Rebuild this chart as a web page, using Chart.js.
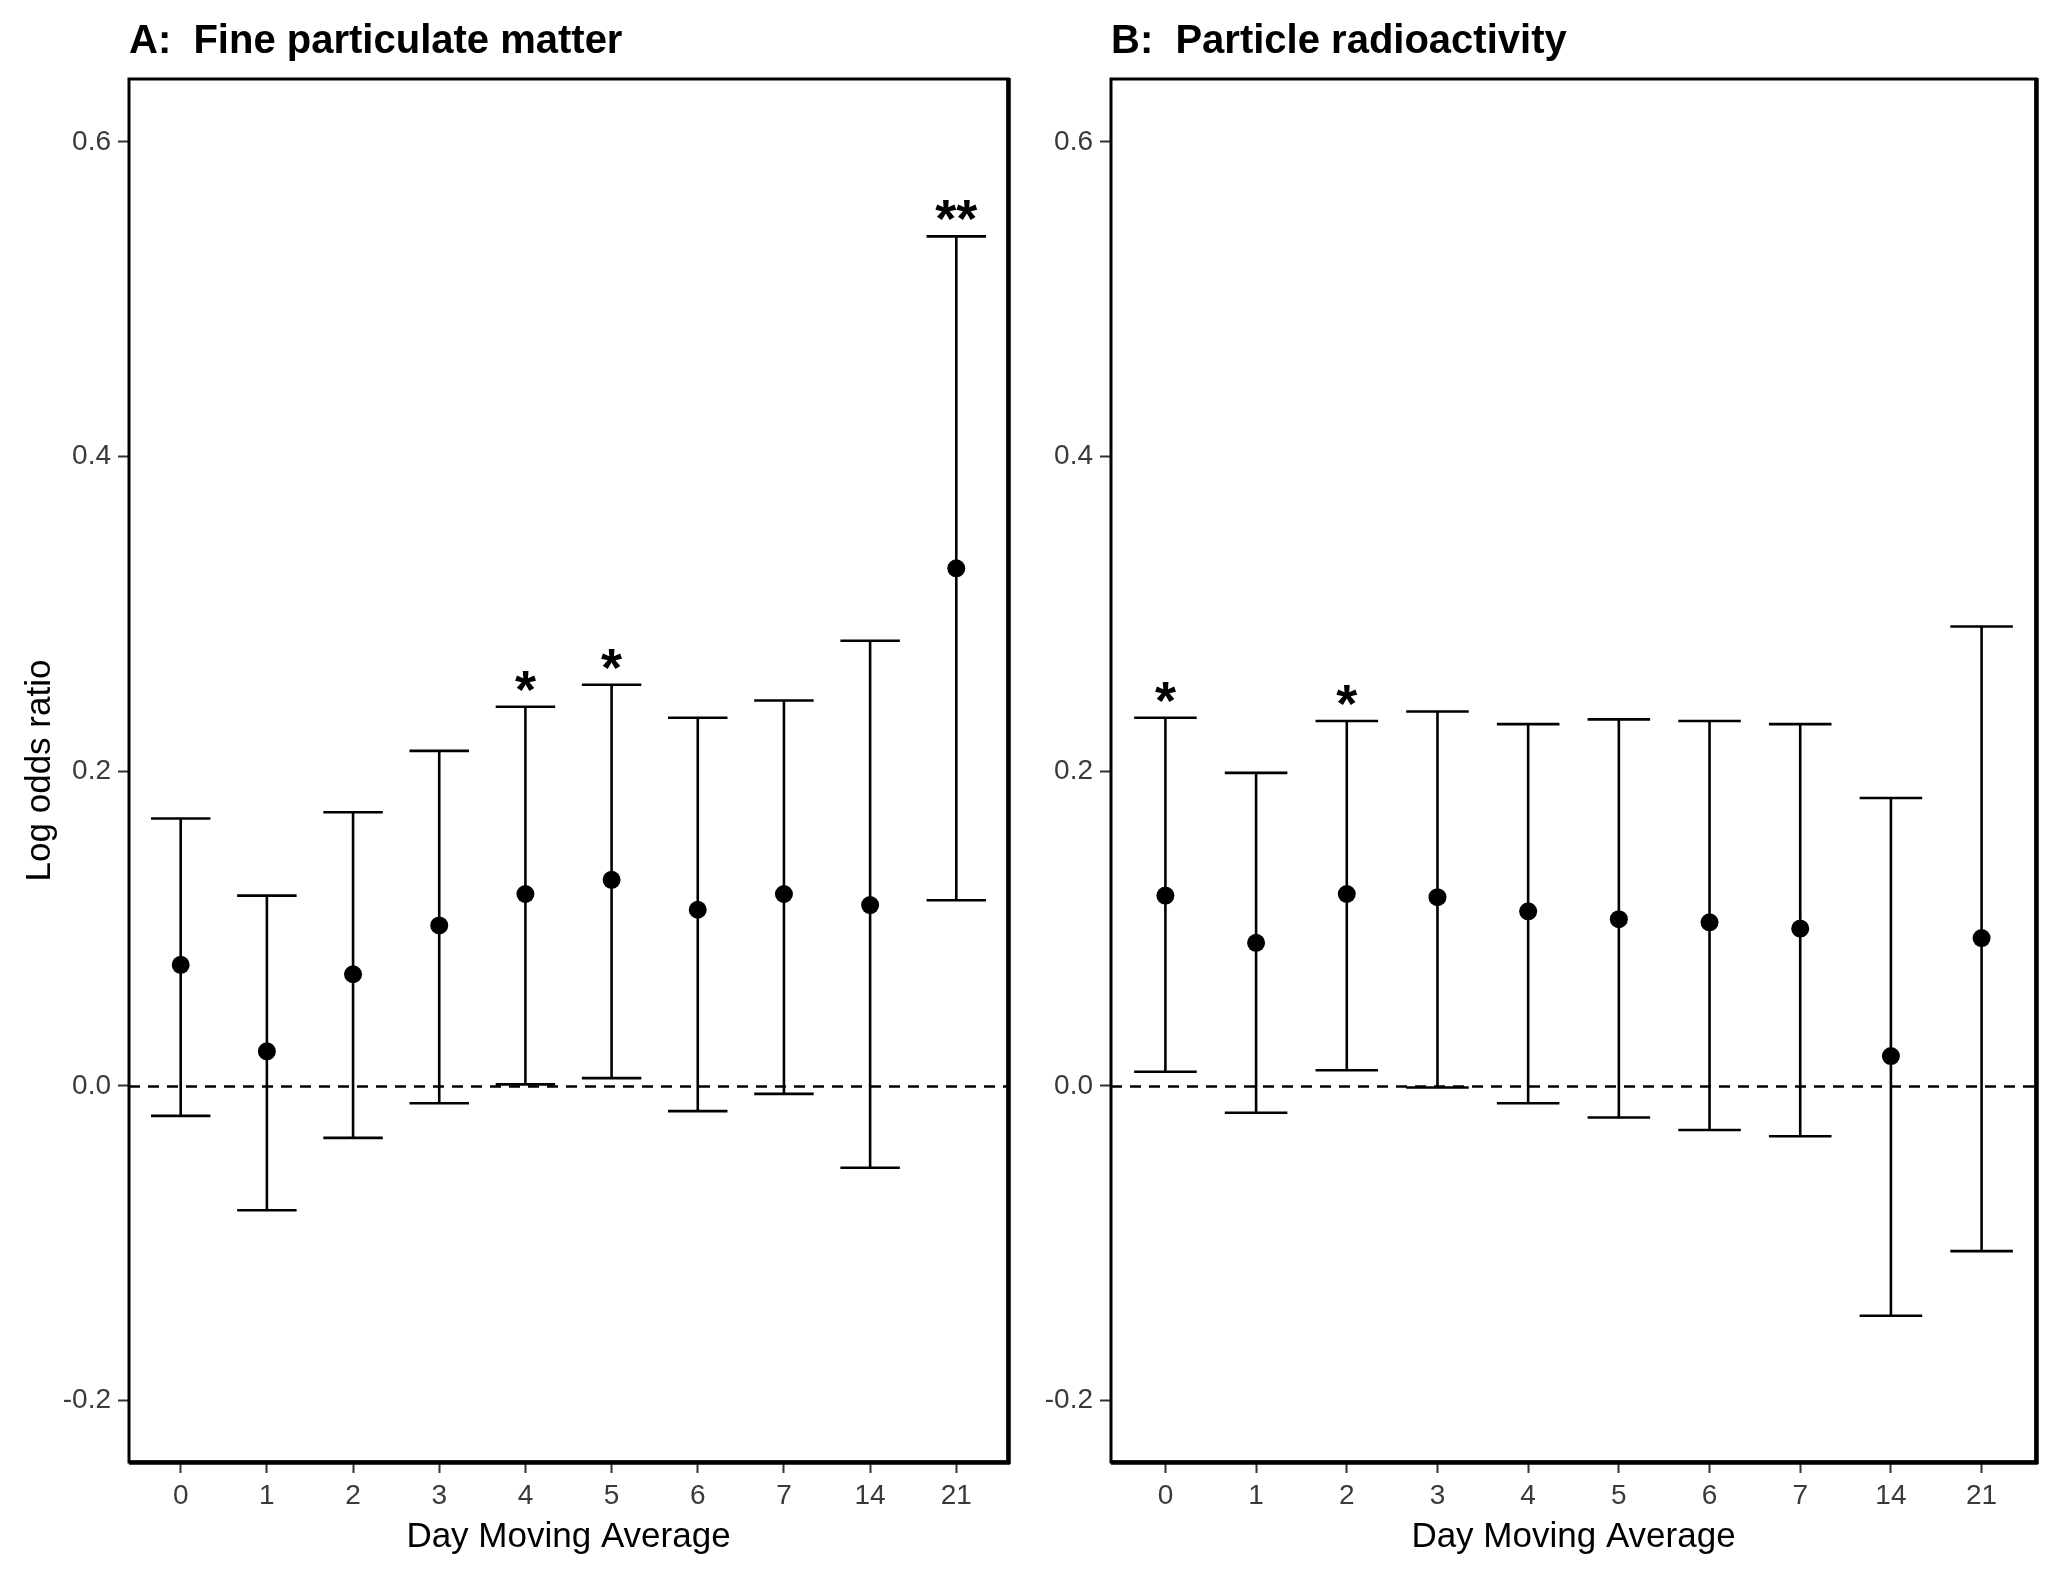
<!DOCTYPE html>
<html lang="en">
  <head>
    <meta charset="UTF-8" />
    <title>Log odds ratio by day moving average</title>
    <script src="https://cdn.jsdelivr.net/npm/chart.js"></script>
    <style>
      html, body { margin: 0; padding: 0; background: #fff; }
      #wrap { position: relative; width: 2056px; height: 1572px; }
      .panel { position: absolute; top: 0; width: 1028px; height: 1572px; }
    </style>
  </head>
  <body>
    <div id="wrap">
      <div class="panel" style="left: 0"><canvas id="chartA" width="1028" height="1572"></canvas></div>
      <div class="panel" style="left: 1028px"><canvas id="chartB" width="1028" height="1572"></canvas></div>
    </div>

    <script>
      // x categories (day moving average) and y ticks
      const dayLabels = ["0", "1", "2", "3", "4", "5", "6", "7", "14", "21"];
      const yTicks = [-0.2, 0.0, 0.2, 0.4, 0.6];

      // A: fine particulate matter
      const pmEstimate = [0.077, 0.022, 0.071, 0.102, 0.122, 0.131, 0.112, 0.122, 0.115, 0.329];
      const pmLower = [-0.019, -0.079, -0.033, -0.011, 0.001, 0.005, -0.016, -0.005, -0.052, 0.118];
      const pmUpper = [0.170, 0.121, 0.174, 0.213, 0.241, 0.255, 0.234, 0.245, 0.283, 0.540];
      const pmStars = ["", "", "", "", "*", "*", "", "", "", "**"];

      // B: particle radioactivity
      const prEstimate = [0.121, 0.091, 0.122, 0.120, 0.111, 0.106, 0.104, 0.100, 0.019, 0.094];
      const prLower = [0.009, -0.017, 0.010, -0.001, -0.011, -0.020, -0.028, -0.032, -0.146, -0.105];
      const prUpper = [0.234, 0.199, 0.232, 0.238, 0.230, 0.233, 0.232, 0.230, 0.183, 0.292];
      const prStars = ["*", "", "*", "", "", "", "", "", "", ""];

      const FONT = "'Liberation Sans', Arial, sans-serif";

      // zero line, error bars, stars, frame and panel title
      const panelDecor = {
        id: "panelDecor",
        beforeDatasetsDraw(chart, args, opts) {
          const { ctx, chartArea: a, scales: { x, y } } = chart;
          ctx.save();
          ctx.strokeStyle = "#000";
          ctx.lineWidth = 2.4;
          ctx.setLineDash([11, 8]);
          const y0 = Math.round(y.getPixelForValue(0)) + 0.5;
          ctx.beginPath();
          ctx.moveTo(a.left, y0);
          ctx.lineTo(a.right, y0);
          ctx.stroke();
          ctx.setLineDash([]);

          const half = 0.345;
          ctx.lineWidth = 2.6;
          opts.lower.forEach((lo, i) => {
            const hi = opts.upper[i];
            const px = x.getPixelForValue(i);
            const l = x.getPixelForValue(i - half);
            const r = x.getPixelForValue(i + half);
            const yl = y.getPixelForValue(lo);
            const yh = y.getPixelForValue(hi);
            ctx.beginPath();
            ctx.moveTo(px, yl); ctx.lineTo(px, yh);
            ctx.moveTo(l, yl); ctx.lineTo(r, yl);
            ctx.moveTo(l, yh); ctx.lineTo(r, yh);
            ctx.stroke();
          });
          ctx.restore();
        },
        afterDraw(chart, args, opts) {
          const { ctx, chartArea: a, scales: { x, y } } = chart;
          ctx.save();
          // significance stars
          ctx.fillStyle = "#000";
          ctx.font = "bold 54px " + FONT;
          ctx.textAlign = "center";
          ctx.textBaseline = "alphabetic";
          opts.stars.forEach((s, i) => {
            if (!s) return;
            ctx.fillText(s, x.getPixelForValue(i), y.getPixelForValue(opts.upper[i]) + 1);
          });
          // panel frame
          ctx.strokeStyle = "#000";
          ctx.lineWidth = 3;
          ctx.strokeRect(a.left, a.top, a.right - a.left, a.bottom - a.top);
          ctx.lineWidth = 4.5;
          ctx.beginPath();
          ctx.moveTo(a.left, a.bottom + 0.5); ctx.lineTo(a.right + 2, a.bottom + 0.5);
          ctx.moveTo(a.right + 0.5, a.top - 1); ctx.lineTo(a.right + 0.5, a.bottom + 2);
          ctx.stroke();
          // title
          ctx.font = "bold 40px " + FONT;
          ctx.textAlign = "left";
          ctx.fillText(opts.title, a.left, 53);
          ctx.restore();
        }
      };

      function makePanel(id, title, est, lower, upper, stars, yWidth, showYTitle) {
        const ctx = document.getElementById(id).getContext("2d");
        return new Chart(ctx, {
          type: "scatter",
          data: {
            datasets: [
              {
                data: est.map((v, i) => ({ x: i, y: v })),
                backgroundColor: "#000",
                borderWidth: 0,
                pointRadius: 9,
                pointHoverRadius: 9,
              },
            ],
          },
          options: {
            responsive: false,
            animation: false,
            layout: { padding: { top: 79, right: 20, bottom: 0, left: 0 } },
            plugins: {
              legend: { display: false },
              tooltip: { enabled: false },
              panelDecor: { title: title, lower: lower, upper: upper, stars: stars },
            },
            scales: {
              x: {
                type: "linear",
                min: -0.6,
                max: 9.6,
                afterBuildTicks: (s) => { s.ticks = dayLabels.map((_, i) => ({ value: i })); },
                afterFit: (s) => { s.height = 110; },
                ticks: {
                  callback: (v) => dayLabels[v],
                  color: "#3a3a3a",
                  font: { size: 28, family: FONT },
                  padding: 6,
                  maxRotation: 0,
                },
                grid: { drawOnChartArea: false, drawTicks: true, tickLength: 11, tickWidth: 2, tickColor: "#333" },
                border: { display: false },
                title: {
                  display: true,
                  text: "Day Moving Average",
                  color: "#000",
                  font: { size: 35, family: FONT },
                  padding: { top: 0, bottom: 14 },
                },
              },
              y: {
                min: -0.239,
                max: 0.640,
                afterBuildTicks: (s) => { s.ticks = yTicks.map((v) => ({ value: v })); },
                afterFit: (s) => { s.width = yWidth; },
                ticks: {
                  callback: (v) => v.toFixed(1),
                  color: "#3a3a3a",
                  font: { size: 28, family: FONT },
                  padding: 7,
                },
                grid: { drawOnChartArea: false, drawTicks: true, tickLength: 11, tickWidth: 2, tickColor: "#333" },
                border: { display: false },
                title: {
                  display: showYTitle,
                  text: "Log odds ratio",
                  color: "#000",
                  font: { size: 35, family: FONT },
                  padding: { top: 19, bottom: 0 },
                },
              },
            },
          },
          plugins: [panelDecor],
        });
      }

      makePanel("chartA", "A:  Fine particulate matter", pmEstimate, pmLower, pmUpper, pmStars, 129, true);
      makePanel("chartB", "B:  Particle radioactivity", prEstimate, prLower, prUpper, prStars, 83, false);
    </script>
  </body>
</html>
